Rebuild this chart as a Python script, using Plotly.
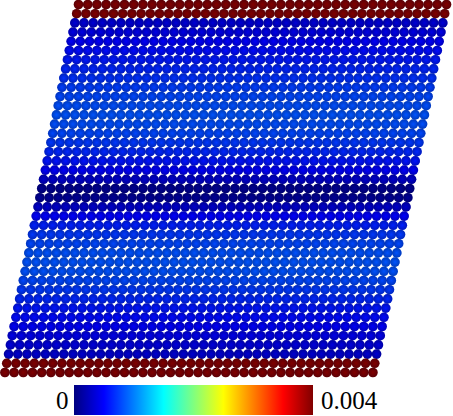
import plotly.graph_objects as go

# ---- data -------------------------------------------------------------
# per-row value (top row first), in units of 1e-3
row_values_milli = [
    4.0, 4.0,
    0.34, 0.40, 0.48, 0.54, 0.59, 0.64, 0.69, 0.74, 0.78, 0.81,
    0.83, 0.81, 0.78, 0.72, 0.65, 0.57, 0.48, 0.30, 0.07, 0.09,
    0.30, 0.50, 0.62, 0.72, 0.78, 0.82, 0.83, 0.82, 0.78, 0.72,
    0.65, 0.58, 0.53, 0.48, 0.42, 0.37, 0.32,
    4.0, 4.0,
]
n_cols = 41
shear = 0.2  # lateral shift (in lattice units) per row
cmin, cmax = 0.0, 0.004
tick_labels = ["0", "0.004"]

jet = [
    [0.0, "rgb(0,0,128)"],
    [0.125, "rgb(0,0,255)"],
    [0.375, "rgb(0,255,255)"],
    [0.625, "rgb(255,255,0)"],
    [0.875, "rgb(255,0,0)"],
    [1.0, "rgb(128,0,0)"],
]

# ---- build lattice ----------------------------------------------------
n_rows = len(row_values_milli)
xs, ys, cs = [], [], []
for i, v in enumerate(row_values_milli):
    for j in range(n_cols):
        xs.append(j + shear * (n_rows - 1 - i))
        ys.append(-i)
        cs.append(v * 1e-3)

W, H = 453, 416
step = 9.2          # px per lattice unit
x0_px = 4.9         # px of bottom-left atom centre
y0_px = 4.5         # px of top row centre

fig = go.Figure()
fig.add_trace(go.Scatter(
    x=xs, y=ys, mode="markers", hoverinfo="skip",
    marker=dict(
        size=9.6, color=cs, colorscale=jet, cmin=cmin, cmax=cmax,
        line=dict(width=0),
        colorbar=dict(
            orientation="h", thickness=30, thicknessmode="pixels",
            len=239 / W, lenmode="fraction",
            x=193.5 / W, xanchor="center",
            y=1 / H, yanchor="bottom",
            xpad=0, ypad=0, outlinewidth=0,
            showticklabels=False, ticks="",
        ),
    ),
    showlegend=False,
))
# sphere shading overlay: darker rim, clear centre
fig.add_trace(go.Scatter(
    x=xs, y=ys, mode="markers", hoverinfo="skip",
    marker=dict(
        size=9.6, color="rgba(0,0,20,0.28)",
        gradient=dict(type="radial", color="rgba(0,0,20,0)"),
        line=dict(width=0),
    ),
    showlegend=False,
))

font = dict(family="Liberation Serif, Times New Roman, serif", size=25, color="black")
fig.add_annotation(x=63 / W, y=(H - 400) / H, xref="paper", yref="paper",
                   text=tick_labels[0], showarrow=False, xanchor="center",
                   yanchor="middle", font=font)
fig.add_annotation(x=319 / W, y=(H - 400) / H, xref="paper", yref="paper",
                   text=tick_labels[1], showarrow=False, xanchor="left",
                   yanchor="middle", font=font)

fig.update_xaxes(visible=False, range=[-x0_px / step, (W - x0_px) / step], fixedrange=True)
fig.update_yaxes(visible=False, range=[-(H - y0_px) / step, y0_px / step], fixedrange=True)
fig.update_layout(
    width=W, height=H, margin=dict(l=0, r=0, t=0, b=0),
    paper_bgcolor="white", plot_bgcolor="white",
)
fig.write_html("out.html", config={"displayModeBar": False},
               post_script="document.body.style.margin='0';")
